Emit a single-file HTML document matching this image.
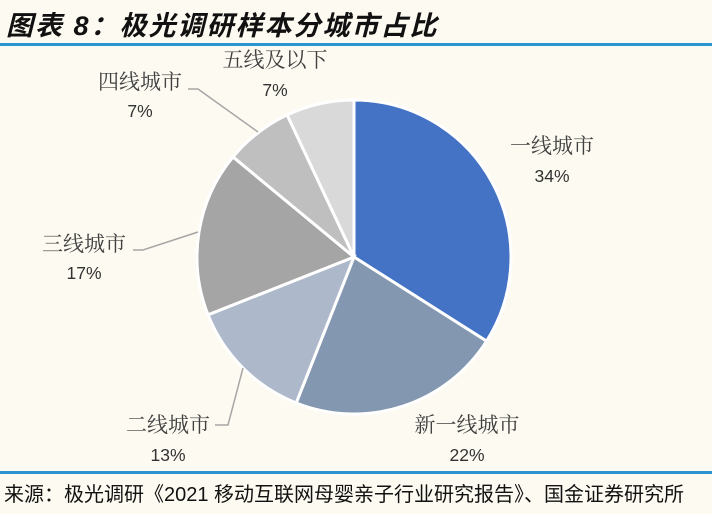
<!DOCTYPE html>
<html><head><meta charset="utf-8"><style>
body{margin:0;width:712px;height:514px;background:#fdfaf1;overflow:hidden;position:relative;font-family:"Liberation Sans","Noto Sans CJK SC",sans-serif}
.t{position:absolute;left:6px;top:4px;font-size:27px;font-weight:bold;font-style:italic;color:#111;letter-spacing:2px;font-family:"Liberation Sans","Noto Sans CJK SC",sans-serif}
.hl{position:absolute;left:0;width:712px;height:3px;background:#2a95cf}
.f{position:absolute;left:4px;top:478px;font-size:20px;color:#111;white-space:nowrap}
</style></head><body>
<div class="t">图表 8：极光调研样本分城市占比</div>
<div class="hl" style="top:43px"></div>
<div class="hl" style="top:471px"></div>
<svg id="s" width="712" height="514" style="position:absolute;left:0;top:0"></svg>
<div class="f">来源：极光调研《2021 移动互联网母婴亲子行业研究报告》、国金证券研究所</div>
<script>
var cx=354,cy=257,r=157,d=[[34,'#4472c4'],[22,'#8497b0'],[13,'#adb9ca'],[17,'#a5a5a5'],[7,'#bfbfbf'],[7,'#d9d9d9']];
var s='',a=-Math.PI/2;
d.forEach(function(v){var b=a+v[0]/100*2*Math.PI;var x1=cx+r*Math.cos(a),y1=cy+r*Math.sin(a),x2=cx+r*Math.cos(b),y2=cy+r*Math.sin(b);
s+='<path d="M'+cx+','+cy+'L'+x1+','+y1+'A'+r+','+r+' 0 '+(b-a>Math.PI?1:0)+' 1 '+x2+','+y2+'Z" fill="'+v[1]+'" stroke="#fff" stroke-width="3"/>';a=b;});
s+='<g stroke="#a6a6a6" stroke-width="1.5" fill="none"><polyline points="188,89 198,89 258,132"/><polyline points="133,250 143,250 198,232"/><polyline points="215,425 228,425 243,368"/></g>';
var L=[['五线及以下',275,67,'7%',90],['四线城市',140,89,'7%',111],['三线城市',84,251,'17%',273],['二线城市',168,432,'13%',455],['新一线城市',467,432,'22%',455],['一线城市',552,153,'34%',176]];
L.forEach(function(l){s+='<text x="'+l[1]+'" y="'+l[2]+'" text-anchor="middle" font-family="Noto Serif CJK SC,serif" font-size="21" fill="#404040">'+l[0]+'</text><text x="'+l[1]+'" y="'+(l[4]+6)+'" text-anchor="middle" font-family="Liberation Sans,sans-serif" font-size="17.5" fill="#333">'+l[3]+'</text>';});
document.getElementById('s').innerHTML=s;
</script>
</body></html>
